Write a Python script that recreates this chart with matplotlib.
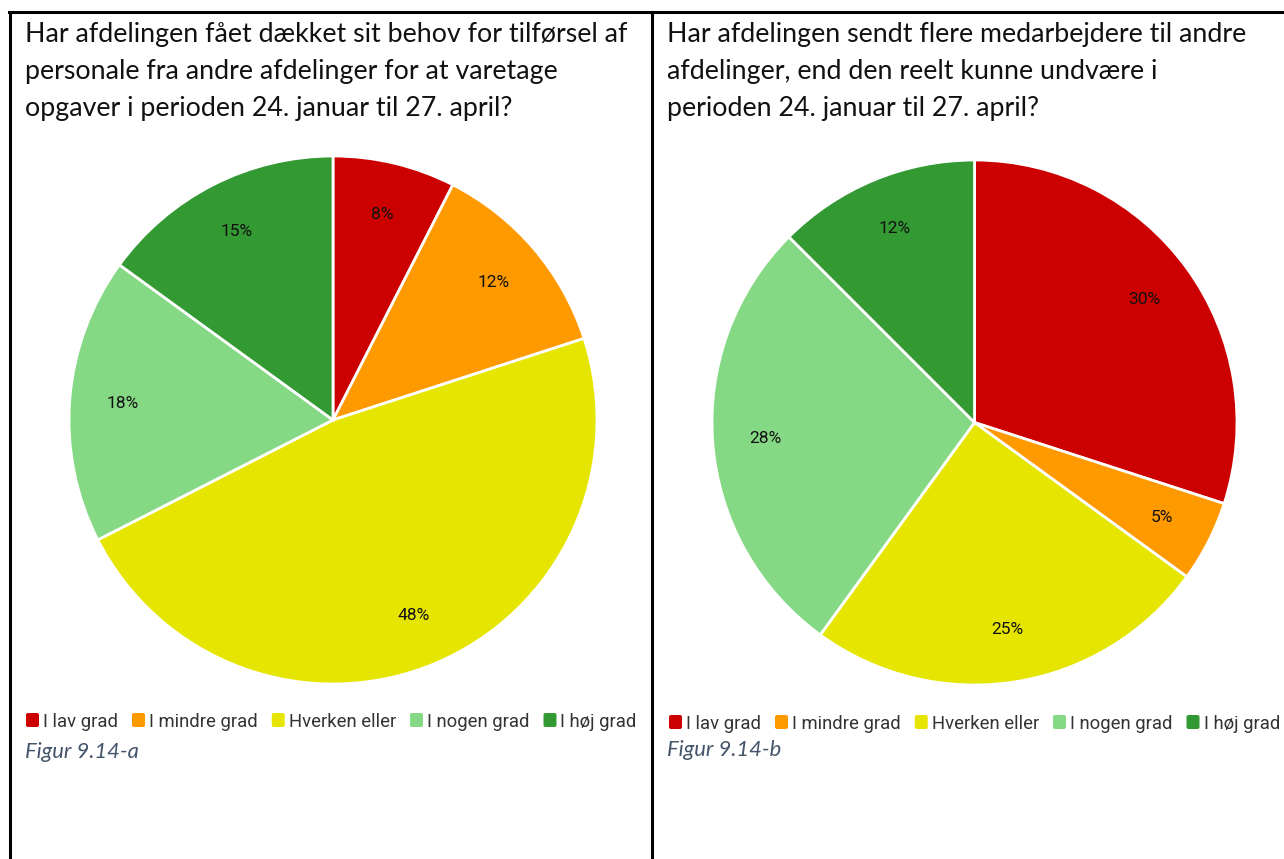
#!/usr/bin/env python3
"""
Two pie charts side by side for figur 9.14-a / 9.14-b
- answers from the departments on staff transfers
- drawn inside a two-cell table frame with caption below each pie
"""
import matplotlib
matplotlib.use("Agg")
import matplotlib.pyplot as plt
import numpy as np
from matplotlib.patches import FancyBboxPatch
from matplotlib.lines import Line2D
from matplotlib.transforms import IdentityTransform

W, H = 1284, 859
DPI = 100

CATEGORIES = ["I lav grad", "I mindre grad", "Hverken eller", "I nogen grad", "I høj grad"]
COLORS = ["#cc0000", "#ff9900", "#e5e500", "#85d985", "#339933"]

# number of departments per answer (40 answers in each question)
COUNTS_A = [3, 5, 19, 7, 6]
COUNTS_B = [12, 2, 10, 11, 5]

TITLE_A = [
    "Har afdelingen fået dækket sit behov for tilførsel af",
    "personale fra andre afdelinger for at varetage",
    "opgaver i perioden 24. januar til 27. april?",
]
TITLE_B = [
    "Har afdelingen sendt flere medarbejdere til andre",
    "afdelinger, end den reelt kunne undvære i",
    "perioden 24. januar til 27. april?",
]
CAPTION_A = "Figur 9.14-a"
CAPTION_B = "Figur 9.14-b"

PX = IdentityTransform()  # pixel coords, origin bottom-left


def pct_labels(counts):
    total = sum(counts)
    return [f"{round(100 * c / total)}%" for c in counts]


def draw_frame(fig):
    fig.add_artist(Line2D([9, W], [H - 12, H - 12], color="black", lw=2.2, transform=PX))
    fig.add_artist(Line2D([10, 10], [H - 12, 0], color="black", lw=2.2, transform=PX))
    fig.add_artist(Line2D([652, 652], [H - 12, 0], color="black", lw=2.2, transform=PX))


def draw_title(fig, x, lines):
    for i, line in enumerate(lines):
        fig.text(x, H - (42 + 37 * i), line, transform=PX, fontsize=19.3,
                 family="Lato", color="#111111", va="baseline")


def draw_pie(fig, counts, cx, cy, r):
    ax = fig.add_axes([(cx - r) / W, 1 - (cy + r) / H, 2 * r / W, 2 * r / H])
    wedges, _ = ax.pie(counts, colors=COLORS, startangle=90, counterclock=False,
                       radius=1.0, wedgeprops=dict(edgecolor="white", linewidth=2))
    for w, lab in zip(wedges, pct_labels(counts)):
        mid = np.deg2rad((w.theta1 + w.theta2) / 2)
        ax.text(0.8 * np.cos(mid), 0.8 * np.sin(mid), lab, ha="center", va="center",
                fontsize=12.5, family="Roboto", color="#111111")
    ax.set_xlim(-1, 1)
    ax.set_ylim(-1, 1)
    ax.axis("off")


def draw_legend(fig, renderer, x, y):
    for label, color in zip(CATEGORIES, COLORS):
        sq = FancyBboxPatch((x, H - y - 7), 13, 14,
                            boxstyle="round,pad=0,rounding_size=2",
                            facecolor=color, edgecolor="none", transform=PX)
        fig.add_artist(sq)
        t = fig.text(x + 17, H - y, label, transform=PX, fontsize=13.3,
                     family="Roboto", color="#333333", va="center_baseline")
        bb = t.get_window_extent(renderer)
        x = bb.x1 + 14


def draw_caption(fig, x, y, text):
    fig.text(x, H - y, text, transform=PX, fontsize=15.8, family="Lato",
             style="italic", color="#44546a", va="baseline")


def main():
    fig = plt.figure(figsize=(W / DPI, H / DPI), dpi=DPI)
    fig.patch.set_facecolor("white")
    renderer = fig.canvas.get_renderer()

    draw_frame(fig)
    draw_title(fig, 25, TITLE_A)
    draw_title(fig, 667, TITLE_B)

    draw_pie(fig, COUNTS_A, 333, 420, 264)
    draw_pie(fig, COUNTS_B, 974.5, 422.5, 262.5)

    draw_legend(fig, renderer, 26, 720)
    draw_legend(fig, renderer, 669, 722)

    draw_caption(fig, 25, 758, CAPTION_A)
    draw_caption(fig, 667, 756, CAPTION_B)

    fig.savefig("out.png", dpi=DPI)
    plt.close(fig)


if __name__ == "__main__":
    main()
